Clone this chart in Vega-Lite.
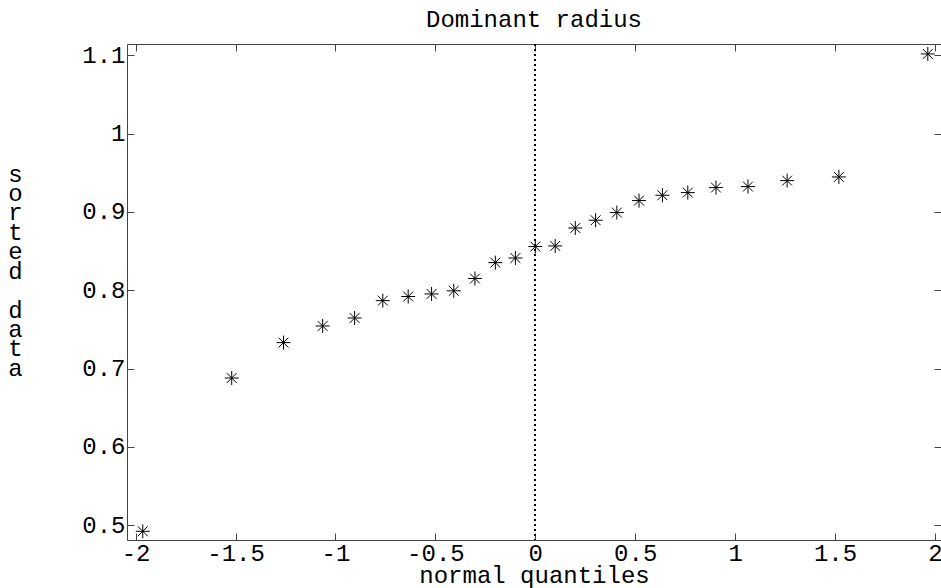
{
  "$schema": "https://vega.github.io/schema/vega-lite/v6.json",
  "width": 814,
  "height": 496,
  "autosize": {"type": "none"},
  "padding": {"left": 127, "top": 44, "right": 0, "bottom": 48},
  "background": "white",
  "config": {
    "view": {"stroke": null},
    "axis": {
      "grid": false,
      "domainColor": "#444",
      "tickColor": "#444",
      "tickSize": -7,
      "labelColor": "black",
      "labelFont": "Liberation Mono",
      "labelFontSize": 24,
      "titleFont": "Liberation Mono",
      "titleFontSize": 24,
      "titleFontWeight": "normal",
      "titleColor": "black",
      "labelFlush": false,
      "labelOverlap": false
    }
  },
  "title": {
    "text": "Dominant radius",
    "font": "Liberation Mono",
    "fontSize": 24,
    "fontWeight": "normal",
    "color": "black",
    "anchor": "middle",
    "baseline": "alphabetic",
    "offset": 17,
    "dy": 25
  },
  "data": {
    "values": [
      {"q": -1.964, "v": 0.4923},
      {"q": -1.519, "v": 0.688},
      {"q": -1.260, "v": 0.7332},
      {"q": -1.064, "v": 0.7544},
      {"q": -0.904, "v": 0.7646},
      {"q": -0.763, "v": 0.7868},
      {"q": -0.636, "v": 0.792},
      {"q": -0.519, "v": 0.7953},
      {"q": -0.408, "v": 0.7993},
      {"q": -0.302, "v": 0.815},
      {"q": -0.200, "v": 0.8353},
      {"q": -0.0995, "v": 0.8412},
      {"q": 0, "v": 0.8558},
      {"q": 0.0995, "v": 0.8566},
      {"q": 0.200, "v": 0.8795},
      {"q": 0.302, "v": 0.8894},
      {"q": 0.408, "v": 0.8992},
      {"q": 0.519, "v": 0.9145},
      {"q": 0.636, "v": 0.9213},
      {"q": 0.763, "v": 0.9247},
      {"q": 0.904, "v": 0.9311},
      {"q": 1.064, "v": 0.9324},
      {"q": 1.260, "v": 0.94},
      {"q": 1.519, "v": 0.9447},
      {"q": 1.964, "v": 1.1017}
    ]
  },
  "layer": [
    {
      "mark": {"type": "rule", "color": "black", "strokeWidth": 1, "strokeDash": [2, 3]},
      "encoding": {
        "x": {
          "datum": 0,
          "type": "quantitative",
          "scale": {"domain": [-2.043, 2.03], "nice": false, "zero": false},
          "axis": {
            "orient": "top",
            "values": [-2, -1.5, -1, -0.5, 0, 0.5, 1, 1.5, 2],
            "labels": false,
            "domain": true,
            "title": null
          }
        }
      }
    },
    {
      "mark": {
        "type": "point",
        "shape": "M-1,0L1,0M0,-1L0,1M-0.7,-0.7L0.7,0.7M-0.7,0.7L0.7,-0.7",
        "size": 196,
        "filled": false,
        "stroke": "black",
        "strokeWidth": 1,
        "opacity": 1
      },
      "encoding": {
        "x": {
          "field": "q",
          "type": "quantitative",
          "scale": {"domain": [-2.043, 2.03], "nice": false, "zero": false},
          "axis": {
            "orient": "bottom",
            "values": [-2, -1.5, -1, -0.5, 0, 0.5, 1, 1.5, 2],
            "labelExpr": "'' + datum.value",
            "labelPadding": 8,
            "labelBaseline": "top",
            "title": "normal quantiles",
            "titleBaseline": "alphabetic",
            "titleY": 42
          }
        },
        "y": {
          "field": "v",
          "type": "quantitative",
          "scale": {"domain": [0.4812, 1.1144], "nice": false, "zero": false},
          "axis": {
            "orient": "left",
            "values": [0.5, 0.6, 0.7, 0.8, 0.9, 1, 1.1],
            "labelExpr": "'' + datum.value",
            "labelPadding": 9,
            "title": ["s", "o", "r", "t", "e", "d"],
            "titleAngle": 0,
            "titleAlign": "center",
            "titleBaseline": "alphabetic",
            "titleX": -112,
            "titleY": 137,
            "titleLineHeight": 19.4
          }
        }
      }
    },
    {
      "mark": {"type": "point", "opacity": 0},
      "encoding": {
        "x": {
          "field": "q",
          "type": "quantitative",
          "scale": {"domain": [-2.043, 2.03], "nice": false, "zero": false},
          "axis": null
        },
        "y": {
          "field": "v",
          "type": "quantitative",
          "scale": {"domain": [0.4812, 1.1144], "nice": false, "zero": false},
          "axis": {
            "orient": "right",
            "values": [0.5, 0.6, 0.7, 0.8, 0.9, 1, 1.1],
            "labels": false,
            "domain": false,
            "title": ["d", "a", "t", "a"],
            "titleAngle": 0,
            "titleAlign": "center",
            "titleBaseline": "alphabetic",
            "titleX": -926,
            "titleY": 273,
            "titleLineHeight": 19.4
          }
        }
      }
    }
  ],
  "resolve": {"axis": {"x": "independent", "y": "independent"}}
}
